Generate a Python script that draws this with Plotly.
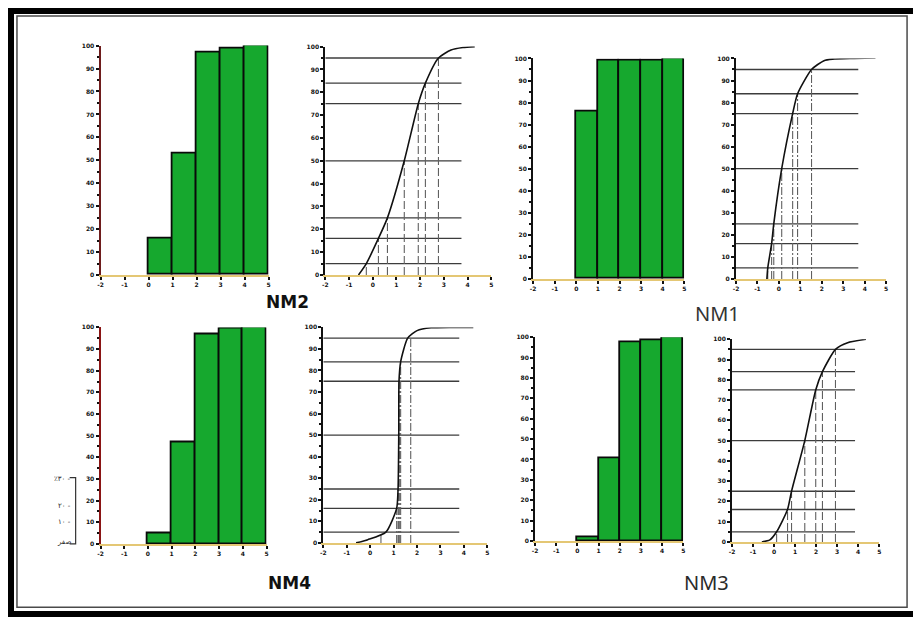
import plotly.graph_objects as go

# page is shown with the browser's default 8px body margin, so the figure
# covers page pixels 8..921 x 8..624
OFF = 8
W, H = 921 - OFF, 624 - OFF

# ---------------- data ----------------
bin_centers = [0.5, 1.5, 2.5, 3.5, 4.5]
nm2_hist = [16, 53, 97, 98.5, 100]
nm1_hist = [76, 99, 99, 99, 100]
nm4_hist = [5, 47, 97, 99.5, 100]
nm3_hist = [2, 40.5, 97.5, 98.5, 100]

percentiles = [5, 16, 25, 50, 75, 84, 95]
nm2_phi = [-0.27, 0.24, 0.62, 1.33, 1.92, 2.22, 2.77]
nm1_phi = [-0.52, -0.34, -0.24, 0.13, 0.64, 0.87, 1.52]
nm4_phi = [0.46, 1.13, 1.19, 1.22, 1.24, 1.3, 1.73]
nm3_phi = [0.12, 0.64, 0.83, 1.46, 1.98, 2.3, 2.92]

nm2_curve_x = [-0.6, -0.27, 0.24, 0.62, 1.33, 1.92, 2.22, 2.77, 3.3, 3.8, 4.3]
nm2_curve_y = [0, 5, 16, 25, 50, 75, 84, 95, 98.5, 99.6, 100]
nm1_curve_x = [-0.56, -0.52, -0.34, -0.24, 0.13, 0.64, 0.87, 1.52, 2.1, 2.5, 3.5, 4.5]
nm1_curve_y = [0, 5, 16, 25, 50, 75, 84, 95, 99, 99.7, 100, 100.2]
nm4_curve_x = [-0.6, -0.1, 0.67, 1.13, 1.19, 1.22, 1.23, 1.3, 1.6, 2.0, 2.6, 3.5, 4.4]
nm4_curve_y = [0, 1.5, 5, 16, 25, 50, 75, 84, 95, 98.5, 99.8, 100, 100]
nm3_curve_x = [-0.58, -0.2, 0.12, 0.64, 0.83, 1.46, 1.98, 2.3, 2.92, 3.5, 4.37]
nm3_curve_y = [0, 1, 5, 16, 25, 50, 75, 84, 95, 98.3, 100]

hline_end = {"NM2": 3.74, "NM1": 3.7, "NM4": 3.8, "NM3": 3.85}

x_ticks = [-2, -1, 0, 1, 2, 3, 4, 5]
y_ticks = [0, 10, 20, 30, 40, 50, 60, 70, 80, 90, 100]

arabic_labels = ["٪٣٠ -", "٢٠ -", "١٠ -", "صفر"]

# ---------------- layout helpers (page pixels -> paper) ----------------
def fx(p):
    return (p - OFF) / W

def fy(p):
    return 1 - (p - OFF) / H

# pixel boxes: (x at -2, x at 5, y at 100, y at 0)
boxes = [
    (98, 267, 42, 274),   # NM2 hist
    (324, 491, 43, 274),  # NM2 cdf
    (533, 685, 55, 278),  # NM1 hist
    (737, 888, 55, 278),  # NM1 cdf
    (98, 265, 327, 546),  # NM4 hist
    (322, 487, 327, 545), # NM4 cdf
    (535, 684, 337, 543), # NM3 hist
    (733, 881, 339, 544), # NM3 cdf
]
yaxis_colors = ["#6e1c1c", "#111111", "#111111", "#111111",
                "#8a1414", "#111111", "#111111", "#111111"]

fig = go.Figure()

GREEN = "#16a82e"
hist_sets = [(nm2_hist, 1), (nm1_hist, 3), (nm4_hist, 5), (nm3_hist, 7)]
for vals, idx in hist_sets:
    fig.add_trace(go.Bar(
        x=bin_centers, y=vals, width=1.0,
        marker=dict(color=GREEN, line=dict(color="#0a0a0a", width=1.8)),
        xaxis="x" + str(idx), yaxis="y" + str(idx), showlegend=False,
        cliponaxis=False,
    ))

LONGDASH = "8px,3px"
DASHDOT = "8px,2px,2px,2px"
cdf_sets = [
    ("NM2", nm2_curve_x, nm2_curve_y, nm2_phi, 2, LONGDASH),
    ("NM1", nm1_curve_x, nm1_curve_y, nm1_phi, 4, DASHDOT),
    ("NM4", nm4_curve_x, nm4_curve_y, nm4_phi, 6, DASHDOT),
    ("NM3", nm3_curve_x, nm3_curve_y, nm3_phi, 8, LONGDASH),
]
for name, cx, cy, phis, idx, dash in cdf_sets:
    xa, ya = "x" + str(idx), "y" + str(idx)
    hx, hy = [], []
    for p in percentiles:
        hx += [-2, hline_end[name], None]
        hy += [p, p, None]
    fig.add_trace(go.Scatter(x=hx, y=hy, mode="lines",
                             line=dict(color="#3c3c3c", width=1.3),
                             xaxis=xa, yaxis=ya, showlegend=False, cliponaxis=False))
    for ph, p in zip(phis, percentiles):
        fig.add_trace(go.Scatter(x=[ph, ph], y=[0, p], mode="lines",
                                 line=dict(color="#606060", width=1.1, dash=dash),
                                 xaxis=xa, yaxis=ya, showlegend=False))
    fig.add_trace(go.Scatter(x=cx, y=cy, mode="lines",
                             line=dict(color="#111111", width=1.6, shape="spline", smoothing=0.6),
                             xaxis=xa, yaxis=ya, showlegend=False, cliponaxis=False))

layout = dict(
    width=W, height=H, margin=dict(l=0, r=0, t=0, b=0),
    paper_bgcolor="white", plot_bgcolor="white", showlegend=False,
    bargap=0,
)
tickfont = dict(family="DejaVu Sans", size=6, color="#111111", weight="bold")
for i, (x0, x1, yt, yb) in enumerate(boxes, start=1):
    suf = "" if i == 1 else str(i)
    layout["xaxis" + suf] = dict(
        domain=[fx(x0), fx(x1)], range=[-2, 5], anchor="y" + str(i),
        tickvals=x_ticks, ticktext=[str(v) for v in x_ticks],
        showgrid=False, zeroline=False, showline=True,
        linecolor="#e4c774", linewidth=2,
        ticks="outside", ticklen=3, tickwidth=1.5, tickcolor="#111111",
        tickfont=tickfont, fixedrange=True,
    )
    layout["yaxis" + suf] = dict(
        domain=[fy(yb), fy(yt)], range=[0, 100], anchor="x" + str(i),
        tickvals=y_ticks, showgrid=False, zeroline=False, showline=True,
        linecolor=yaxis_colors[i - 1], linewidth=2,
        ticks="outside", ticklen=3, tickwidth=1.5, tickcolor="#111111",
        minor=dict(dtick=5, ticks="outside", ticklen=2, tickcolor="#111111"),
        tickfont=tickfont, fixedrange=True,
    )

def label(text, x, y, family, size, color):
    return dict(text=text, x=fx(x), y=fy(y), xref="paper", yref="paper",
                xanchor="center", yanchor="middle", showarrow=False,
                font=dict(family=family, size=size, color=color))

annotations = [
    label("<b>NM2</b>", 286, 301, "DejaVu Sans", 17, "#111111"),
    label("<b>NM4</b>", 288, 586, "DejaVu Sans", 17, "#111111"),
    label("NM1", 718, 313, "Noto Sans", 20, "#333333"),
    label("NM3", 707, 585, "Noto Sans", 20, "#2a2a2a"),
]
for lab, yp in zip(arabic_labels, [480, 508, 524, 544]):
    annotations.append(dict(text=lab, x=fx(70), y=fy(yp), xref="paper", yref="paper",
                            xanchor="right", yanchor="middle", showarrow=False,
                            font=dict(family="DejaVu Sans", size=7, color="#222222")))
layout["annotations"] = annotations

shapes = [
    dict(type="rect", xref="paper", yref="paper", x0=fx(8), x1=fx(918), y0=fy(617), y1=fy(7),
         line=dict(color="#000000", width=6)),
    dict(type="rect", xref="paper", yref="paper", x0=fx(14), x1=fx(909), y0=fy(610), y1=fy(12),
         line=dict(color="#4a4a4a", width=1.5)),
    dict(type="path", xref="paper", yref="paper",
         path="M {a},{b} L {c},{b} L {c},{d} L {a},{d}".format(
             a=fx(67), b=fy(479), c=fx(73), d=fy(546)),
         line=dict(color="#333333", width=1.2)),
]
layout["shapes"] = shapes

fig.update_layout(**layout)
fig.write_html("out.html")
